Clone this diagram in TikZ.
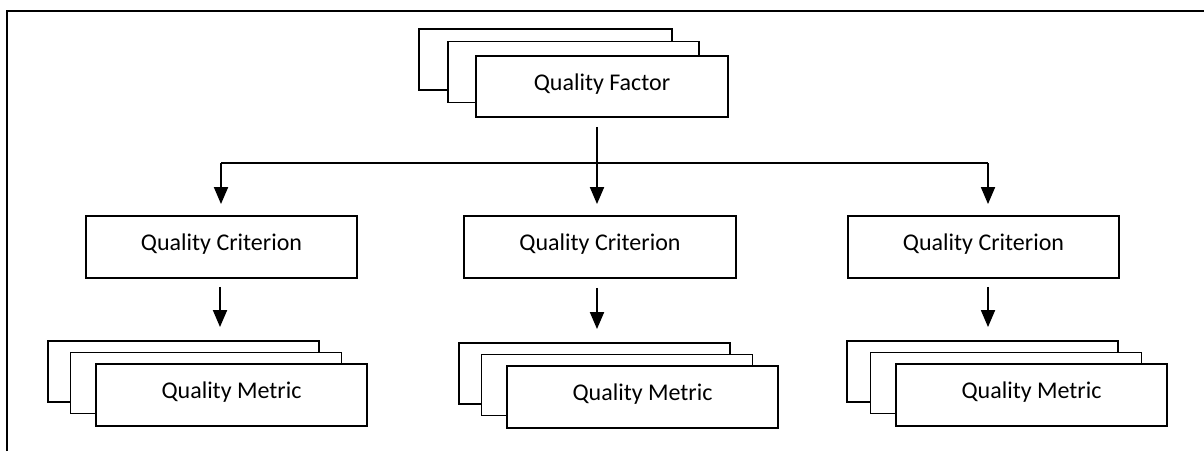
\documentclass[tikz,border=0pt]{standalone}
\usepackage{fontspec}
\setmainfont{Carlito}
\usetikzlibrary{arrows.meta}
\begin{document}
\begin{tikzpicture}[x=1pt, y=-1pt,
  box/.style={draw, line width=1.9pt, fill=white, inner sep=0pt,
    minimum width=271pt, minimum height=61pt,
    font=\fontsize{24pt}{28pt}\selectfont, text depth=9pt},
  wire/.style={line width=1.9pt},
  arr/.style={wire, -{Triangle[length=17pt,width=14pt]}}]
\useasboundingbox (0,0) rectangle (1204,451);

% page frame (top and left edges)
\draw[wire] (7,451) -- (7,11) -- (1204,11);

% quality factor stack
\node[box, minimum width=253pt] (fb) at (545.5,59.5) {};
\node[box, minimum width=251pt] (fm) at (573.5,72) {};
\node[box, minimum width=252pt] (f) at (602,86.5) {Quality Factor};

% quality criteria
\node[box, minimum height=62pt] (c1) at (221.5,247) {Quality Criterion};
\node[box, minimum height=62pt, minimum width=272pt] (c2) at (600,247) {Quality Criterion};
\node[box, minimum height=62pt] (c3) at (983.5,247) {Quality Criterion};

% quality metric stacks
\node[box] (m1b) at (183.5,371.5) {};
\node[box] (m1m) at (206,383) {};
\node[box, minimum height=62pt] (m1) at (231.5,395) {Quality Metric};

\node[box] (m2b) at (594.5,373.5) {};
\node[box] (m2m) at (617,385) {};
\node[box, minimum height=62pt] (m2) at (642.5,397) {Quality Metric};

\node[box] (m3b) at (982.5,371.5) {};
\node[box] (m3m) at (1006,383) {};
\node[box, minimum height=62pt] (m3) at (1031.5,395) {Quality Metric};

% distribution bus from the factor to the criteria
\coordinate (busL) at (221,163);
\coordinate (busM) at (597,163);
\coordinate (busR) at (988,163);
\draw[wire] (busL) -- (busR);
\draw[arr] ([xshift=-5pt,yshift=-9pt]f.south) -- ([yshift=11pt]c2.north -| busM);
\draw[arr] (busL) -- ([yshift=11pt]c1.north -| busL);
\draw[arr] (busR) -- ([yshift=11pt]c3.north -| busR);

% criteria to metrics
\draw[arr] ([xshift=-1.5pt,yshift=-8pt]c1.south) -- ([xshift=-1.5pt,yshift=13pt]m1b.north -| c1.south);
\draw[arr] ([xshift=-3pt,yshift=-9pt]c2.south) -- ([xshift=-3pt,yshift=13pt]m2b.north -| c2.south);
\draw[arr] ([xshift=4.5pt,yshift=-8pt]c3.south) -- ([xshift=4.5pt,yshift=13pt]m3b.north -| c3.south);
\end{tikzpicture}
\end{document}
